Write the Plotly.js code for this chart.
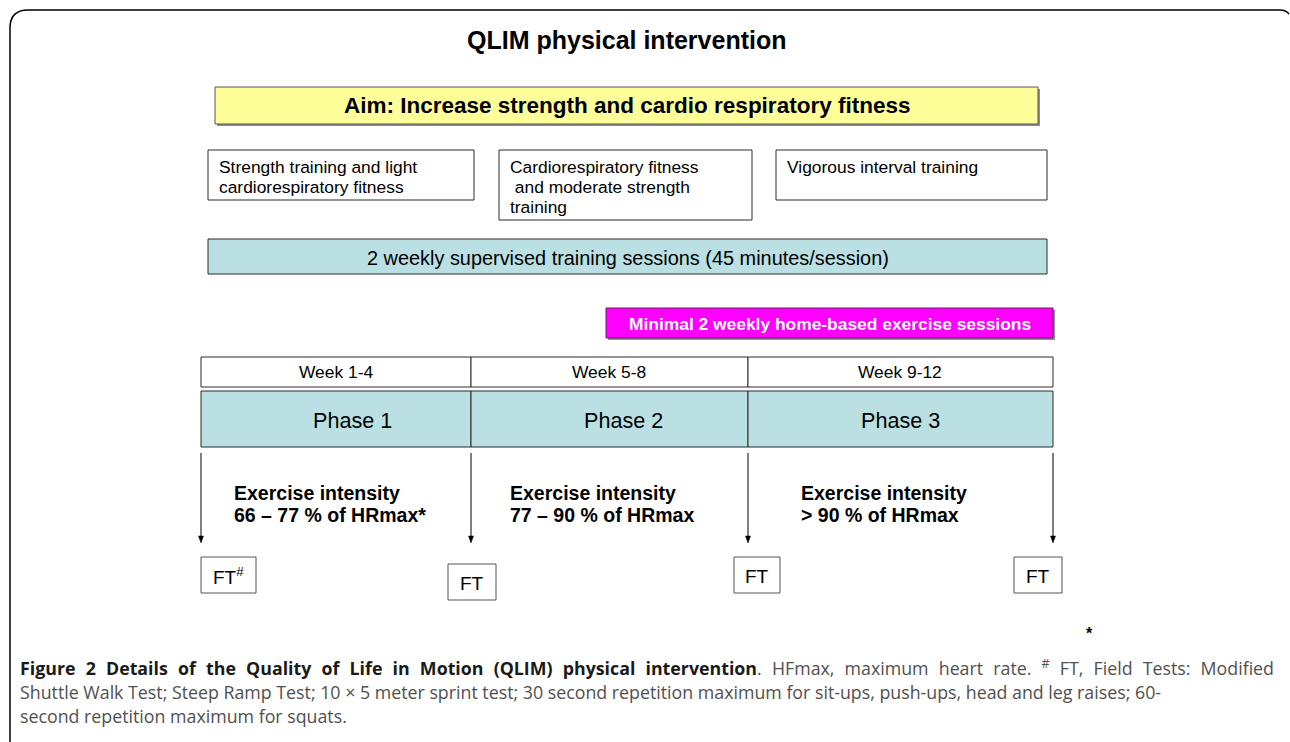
<!DOCTYPE html>
<html>
<head>
<meta charset="utf-8">
<script src="https://cdn.plot.ly/plotly-3.0.1.min.js"></script>
<style>html,body{margin:0;padding:0;background:#fff;}#chart{width:1290px;height:742px;}</style>
</head>
<body>
<div id="chart"></div>
<script>
// ---- content (texts) ----
const TITLE = 'QLIM physical intervention';
const AIM = 'Aim: Increase strength and cardio respiratory fitness';
const FOCUS = [
  ['Strength training and light', 'cardiorespiratory fitness'],
  ['Cardiorespiratory fitness', '&nbsp;and moderate strength', 'training'],
  ['Vigorous interval training']
];
const SUPERVISED = '2 weekly supervised training sessions (45 minutes/session)';
const HOME = 'Minimal 2 weekly home-based exercise sessions';
const WEEKS = ['Week 1-4', 'Week 5-8', 'Week 9-12'];
const PHASES = ['Phase 1', 'Phase 2', 'Phase 3'];
const INTENSITY = [
  ['Exercise intensity', '66 – 77 % of HRmax*'],
  ['Exercise intensity', '77 – 90 % of HRmax'],
  ['Exercise intensity', '&gt; 90 % of HRmax']
];
const FIELD_TESTS = ['FT<sup>#</sup>', 'FT', 'FT', 'FT'];
const FOOTNOTE_MARK = '*';
const CAPTION = [
  '<b>Figure 2 Details of the Quality of Life in Motion (QLIM) physical intervention</b>. HFmax, maximum heart rate. <sup>#</sup> FT, Field Tests: Modified',
  'Shuttle Walk Test; Steep Ramp Test; 10 × 5 meter sprint test; 30 second repetition maximum for sit-ups, push-ups, head and leg raises; 60-',
  'second repetition maximum for squats.'
];

// ---- geometry (pixel layout) ----
const G = {
  titleY: 40,
  aim: [215, 1038, 87, 124],
  focus: [[208, 474, 150, 200], [499, 752, 150, 220], [776, 1047, 150, 200]],
  focusLineY: [166.5, 187, 207],
  supervised: [208, 1047, 239, 274],
  home: [606, 1053, 308, 338],
  bounds: [201, 471, 748, 1053],
  weekRow: [357, 387],
  weekX: [336, 609, 900],
  phaseRow: [391, 447],
  phaseX: [352, 623, 900],
  arrow: [453, 543],
  intensityX: [233, 509, 800],
  intensityY: [493, 515],
  ft: [[201, 256, 557, 593], [448, 496, 564, 600], [734, 780, 557, 593], [1014, 1062, 557, 593]],
  star: [1089, 633],
  captionX: [19, 1273],
  captionY: [667, 692, 716]
};

const SANS = 'Liberation Sans, Arial, sans-serif';
const CAPFONT = 'Open Sans, Noto Sans, sans-serif';
const TEAL = '#bae0e3';
const EDGE = '#2a2a2a';

const shapes = [];
const ann = [];

function rect(b, fill, line, shadow) {
  if (shadow) {
    shapes.push({type:'rect', xref:'x', yref:'y', x0:b[0]+2, x1:b[1]+2, y0:b[2]+2, y1:b[3]+2,
      fillcolor:'#8f8f8f', line:{width:0}, layer:'below'});
  }
  shapes.push({type:'rect', xref:'x', yref:'y', x0:b[0], x1:b[1], y0:b[2], y1:b[3],
    fillcolor:fill, line:{color:line || EDGE, width:1}, layer:'below'});
}
function text(t, x, y, size, opts) {
  opts = opts || {};
  ann.push({text:t, x:x, y:y, xref:'x', yref:'y', showarrow:false,
    xanchor:opts.xanchor || 'center', yanchor:'middle', align:opts.xanchor || 'center',
    borderpad:0,
    font:{family:opts.family || SANS, size:size, color:opts.color || '#000'}});
  return ann.length - 1;
}

// outer frame with rounded corner
shapes.push({type:'path', xref:'x', yref:'y',
  path:'M 10 742 L 10 28 Q 10 10 28 10 L 1280 10 Q 1286 10 1289 14',
  line:{color:'#000', width:1.5}});

// title
text('<b>' + TITLE + '</b>', 627, G.titleY, 25);

// aim
rect(G.aim, '#ffff99', '#555', true);
text('<b>' + AIM + '</b>', (G.aim[0]+G.aim[1])/2, (G.aim[2]+G.aim[3])/2, 22.5);

// focus boxes
FOCUS.forEach((lines, i) => {
  const b = G.focus[i];
  rect(b, '#ffffff', EDGE, false);
  lines.forEach((ln, j) => text(ln, b[0] + 10, G.focusLineY[j], 17.4, {xanchor:'left'}));
});

// supervised sessions
rect(G.supervised, TEAL, EDGE, false);
text(SUPERVISED, (G.supervised[0]+G.supervised[1])/2, 257.5, 19.9);

// home-based
rect(G.home, '#ff00ff', '#6a1a6a', true);
text('<b>' + HOME + '</b>', (G.home[0]+G.home[1])/2, 323.5, 17.4, {color:'#ffffff'});

// week & phase rows
WEEKS.forEach((w, i) => {
  const x0 = G.bounds[i], x1 = G.bounds[i+1];
  rect([x0, x1, G.weekRow[0], G.weekRow[1]], '#ffffff', EDGE, false);
  text(w, G.weekX[i], (G.weekRow[0]+G.weekRow[1])/2, 17.4);
  rect([x0, x1, G.phaseRow[0], G.phaseRow[1]], TEAL, EDGE, false);
  text(PHASES[i], G.phaseX[i], (G.phaseRow[0]+G.phaseRow[1])/2 + 1, 21.6);
});

// arrows (line + small triangular head)
G.bounds.forEach(x => {
  shapes.push({type:'line', xref:'x', yref:'y', x0:x, x1:x, y0:G.arrow[0], y1:G.arrow[1]-5,
    line:{color:'#000', width:1}});
  shapes.push({type:'path', xref:'x', yref:'y',
    path:`M ${x-2.5} ${G.arrow[1]-7} L ${x+2.5} ${G.arrow[1]-7} L ${x} ${G.arrow[1]} Z`,
    fillcolor:'#000', line:{color:'#000', width:0.5}});
});

// intensity texts
INTENSITY.forEach((lines, i) => {
  lines.forEach((ln, j) => text('<b>' + ln + '</b>', G.intensityX[i], G.intensityY[j], 19.5, {xanchor:'left'}));
});

// field tests
FIELD_TESTS.forEach((t, i) => {
  const b = G.ft[i];
  rect(b, '#ffffff', '#555', false);
  text(t, (b[0]+b[1])/2, (b[2]+b[3])/2 + 1, 19);
});

// footnote star
text('<b>' + FOOTNOTE_MARK + '</b>', G.star[0], G.star[1], 16);

// caption
const capIdx = CAPTION.map((ln, j) => text(ln, G.captionX[0], G.captionY[j], 17.8,
  {xanchor:'left', family:CAPFONT, color:'#505050'}));

const layout = {
  width:1290, height:742,
  margin:{l:0, r:0, t:0, b:0},
  paper_bgcolor:'#ffffff', plot_bgcolor:'#ffffff',
  xaxis:{range:[0,1290], visible:false, fixedrange:true},
  yaxis:{range:[742,0], visible:false, fixedrange:true},
  shapes:shapes, annotations:ann, showlegend:false
};
Plotly.newPlot('chart', [], layout, {displayModeBar:false, staticPlot:true}).then(gd => {
  // bold part of caption darker; justify first caption line like the reference
  const el = gd.querySelector('.annotation[data-index="' + capIdx[0] + '"] text.annotation-text');
  if (el) {
    el.querySelectorAll('tspan').forEach(ts => {
      if ((ts.getAttribute('style') || '').indexOf('bold') >= 0) ts.style.fill = '#1a1a1a';
    });
    const w0 = el.getComputedTextLength();
    const spaces = (el.textContent.match(/ /g) || []).length;
    const target = G.captionX[1] - G.captionX[0];
    if (spaces > 0 && target > w0) el.style.wordSpacing = ((target - w0) / spaces) + 'px';
  }
});
</script>
</body>
</html>
